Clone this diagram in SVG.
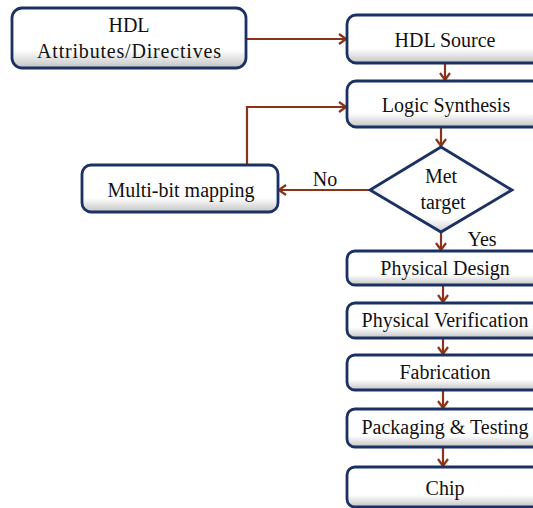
<svg xmlns="http://www.w3.org/2000/svg" width="533" height="508" viewBox="0 0 533 508">
<defs>
<linearGradient id="bf" x1="0" y1="0" x2="0" y2="1">
<stop offset="0" stop-color="#ffffff"/>
<stop offset="0.7" stop-color="#ffffff"/>
<stop offset="1" stop-color="#c4c4c4"/>
</linearGradient>
<radialGradient id="df" cx="0.5" cy="0.45" r="0.6">
<stop offset="0" stop-color="#ffffff"/>
<stop offset="0.65" stop-color="#ffffff"/>
<stop offset="1" stop-color="#bdbdbd"/>
</radialGradient>
<marker id="ah" viewBox="0 0 10 12" refX="9" refY="6" markerWidth="10" markerHeight="12" markerUnits="userSpaceOnUse" orient="auto">
<path d="M2,1 L9,6 L2,11" fill="none" stroke="#8a3318" stroke-width="2.2"/>
</marker>
</defs>
<style>
.box{fill:url(#bf);stroke:#1c3163;stroke-width:2.8}
.dia{fill:url(#df);stroke:#1c3163;stroke-width:2.8}
.t{font-family:"Liberation Serif","DejaVu Serif",serif;font-size:20px;fill:#111111;text-anchor:middle}
.ca{fill:none;stroke:#8a3318;stroke-width:2.2;marker-end:url(#ah)}
</style>
<rect width="533" height="508" fill="#ffffff"/>
<g id="connectors">
<line class="ca" x1="247" y1="39" x2="346" y2="39"/>
<line class="ca" x1="445" y1="64" x2="445" y2="80"/>
<line class="ca" x1="441" y1="128" x2="441" y2="146"/>
<line class="ca" x1="370" y1="190" x2="279" y2="190"/>
<polyline class="ca" points="247,165 247,107 346,107"/>
<line class="ca" x1="441" y1="233" x2="441" y2="250"/>
<line class="ca" x1="443" y1="286" x2="443" y2="302"/>
<line class="ca" x1="443" y1="339" x2="443" y2="354"/>
<line class="ca" x1="443" y1="391" x2="443" y2="408"/>
<line class="ca" x1="443" y1="448" x2="443" y2="466"/>
<text class="t" x="325" y="186">No</text>
<text class="t" x="482" y="246">Yes</text>
</g>
<g id="hdl-attr">
<rect class="box" x="12" y="8" width="234" height="60" rx="10"/>
<text class="t" x="129" y="32">HDL</text>
<text class="t" x="129" y="58" textLength="184" lengthAdjust="spacing">Attributes/Directives</text>
</g>
<g id="hdl-source">
<rect class="box" x="347" y="15" width="196" height="48" rx="9"/>
<text class="t" x="445" y="47">HDL Source</text>
</g>
<g id="logic-synthesis">
<rect class="box" x="347" y="81" width="196" height="46" rx="9"/>
<text class="t" x="446" y="112">Logic Synthesis</text>
</g>
<g id="met-target">
<polygon class="dia" points="441,147 512,190 441,232 370,190"/>
<text class="t" x="441" y="183">Met</text>
<text class="t" x="443" y="209">target</text>
</g>
<g id="multi-bit">
<rect class="box" x="82" y="165" width="196" height="47" rx="9"/>
<text class="t" x="181" y="197">Multi-bit mapping</text>
</g>
<g id="physical-design">
<rect class="box" x="347" y="251" width="196" height="34" rx="8"/>
<text class="t" x="445" y="275">Physical Design</text>
</g>
<g id="physical-verification">
<rect class="box" x="347" y="303" width="196" height="35" rx="8"/>
<text class="t" x="445" y="327">Physical Verification</text>
</g>
<g id="fabrication">
<rect class="box" x="347" y="355" width="196" height="35" rx="8"/>
<text class="t" x="445" y="379">Fabrication</text>
</g>
<g id="packaging">
<rect class="box" x="347" y="409" width="196" height="38" rx="8"/>
<text class="t" x="445" y="434">Packaging &amp; Testing</text>
</g>
<g id="chip">
<rect class="box" x="347" y="467" width="196" height="40" rx="8"/>
<text class="t" x="445" y="495">Chip</text>
</g>
</svg>
